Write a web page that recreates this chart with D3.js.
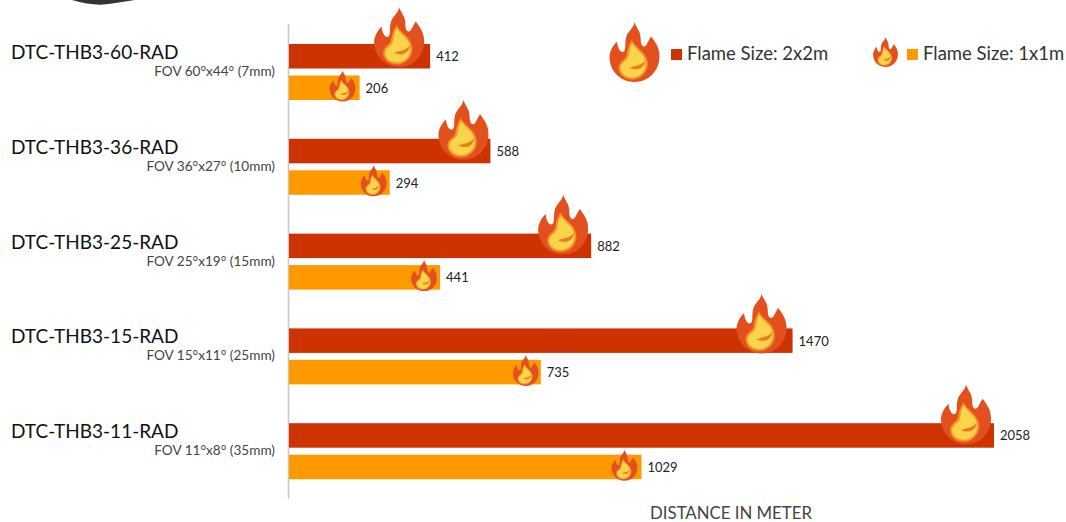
<!DOCTYPE html>
<html>
<head>
<meta charset="utf-8">
<script src="https://cdn.jsdelivr.net/npm/d3@7"></script>
<style>
  html, body { margin: 0; padding: 0; background: #fff; }
  svg { display: block; }
  text { font-family: Lato, "Open Sans", sans-serif; }
</style>
</head>
<body>
<div id="chart"></div>
<script>
var models = ['DTC-THB3-60-RAD', 'DTC-THB3-36-RAD', 'DTC-THB3-25-RAD', 'DTC-THB3-15-RAD', 'DTC-THB3-11-RAD'];
var fovLabels = ['FOV 60°x44° (7mm)', 'FOV 36°x27° (10mm)', 'FOV 25°x19° (15mm)', 'FOV 15°x11° (25mm)', 'FOV 11°x8° (35mm)'];
var flame2x2 = [412, 588, 882, 1470, 2058];
var flame1x1 = [206, 294, 441, 735, 1029];

var WIDTH = 1066, HEIGHT = 522;
var RED = '#cc3300', ORANGE = '#ff9900';

// the flames were placed by hand in the original, so each row sits a bit differently
var bigFlameDx = [-31, -27, -28, -31, -28];
var bigFlameTop = [-37, -39, -39, -35, -39];
var smallFlameDx = [-17, -16, -16, -15, -17];

var svg = d3.select('#chart').append('svg').attr('width', WIDTH).attr('height', HEIGHT);

var x = d3.scaleLinear().domain([0, 2058]).range([289, 994]);
var y = d3.scaleBand().domain(models).range([37, 511]).padding(0);
var inner = d3.scaleBand().domain(['big', 'small']).range([7, 63]).paddingInner(0.222).paddingOuter(0);

// cropped photo of the camera at the very top
svg.append('path')
  .attr('d', 'M72,0 Q95,7 112,3.5 L135,0 Z')
  .attr('fill', '#333');

// axis line
svg.append('line')
  .attr('x1', 288.5).attr('x2', 288.5)
  .attr('y1', 24).attr('y2', 499)
  .attr('stroke', '#c8c8c8').attr('stroke-width', 1.5);

// flame drawn in a 100x120 box
function flame(parent, cx, top, h) {
  var k = h / 120;
  var g = parent.append('g').attr('transform', 'translate(' + (cx - 50 * k) + ',' + top + ') scale(' + k + ')');
  g.append('path')
    .attr('fill', '#e2501e')
    .attr('d', 'M50,0 C52,10 62,18 62,30 C63,38 62,46 68,49 C74,50 76,40 83,29 C92,40 100,52 100,68 C100,98 78,120 50,120 C22,120 0,98 0,70 C0,58 8,46 15,39 C16,50 20,60 27,60 C34,58 30,44 33,32 C36,18 48,14 50,0 Z');
  g.append('path')
    .attr('fill', '#f4902a')
    .attr('d', 'M45,36 C50,50 72,58 76,78 C80,98 64,114 48,115 C32,116 18,106 18,92 C18,78 32,76 34,66 C36,54 38,46 45,36 Z');
  g.append('path')
    .attr('fill', '#fbd44a')
    .attr('d', 'M46,42 C50,54 68,60 72,78 C76,96 62,110 48,111 C34,112 22,104 22,92 C22,80 36,78 38,68 C40,58 40,50 46,42 Z');
  g.append('path')
    .attr('fill', '#ee7a22')
    .attr('d', 'M72,76 C64,88 52,86 40,92 C52,96 68,98 72,76 Z');
}

var groups = svg.selectAll('g.model')
  .data(models)
  .enter()
  .append('g')
  .attr('class', 'model');

groups.each(function (m, i) {
  var g = d3.select(this);
  var top = y(m);

  g.append('text').attr('x', 11).attr('y', top + 22)
    .attr('font-size', 19).attr('fill', '#111').text(m);
  g.append('text').attr('x', 275).attr('y', top + 39)
    .attr('text-anchor', 'end').attr('font-size', 13.6).attr('fill', '#444').text(fovLabels[i]);

  [['big', flame2x2[i], RED], ['small', flame1x1[i], ORANGE]].forEach(function (b) {
    var by = top + inner(b[0]);
    g.append('rect')
      .attr('x', x(0)).attr('y', by)
      .attr('width', x(b[1]) - x(0)).attr('height', inner.bandwidth())
      .attr('fill', b[2]);
    g.append('text')
      .attr('x', x(b[1]) + 6).attr('y', by + inner.bandwidth() / 2 + 5)
      .attr('font-size', 13).attr('fill', '#222').text(b[1]);
    if (b[0] === 'big') flame(g, x(b[1]) + bigFlameDx[i], by + bigFlameTop[i], 60);
    else flame(g, x(b[1]) + smallFlameDx[i], by - 5, 31);
  });
});

svg.append('text').attr('x', 731).attr('y', 519)
  .attr('text-anchor', 'middle').attr('font-size', 16.8).attr('fill', '#444')
  .text('DISTANCE IN METER');

// legend
flame(svg, 634.5, 22, 60);
svg.append('rect').attr('x', 671).attr('y', 49).attr('width', 11).attr('height', 11).attr('fill', RED);
svg.append('text').attr('x', 687).attr('y', 60).attr('font-size', 18.5).attr('fill', '#333').text('Flame Size: 2x2m');
flame(svg, 885.5, 37, 30);
svg.append('rect').attr('x', 907).attr('y', 49).attr('width', 11).attr('height', 11).attr('fill', ORANGE);
svg.append('text').attr('x', 923).attr('y', 60).attr('font-size', 18.5).attr('fill', '#333').text('Flame Size: 1x1m');
</script>
</body>
</html>
